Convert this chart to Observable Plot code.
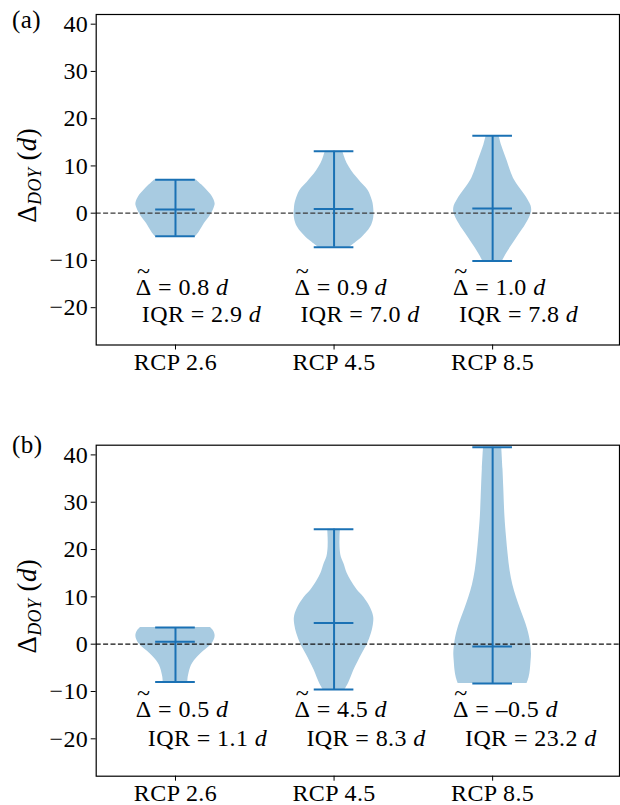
<!DOCTYPE html>
<html><head><meta charset="utf-8">
<script src="https://cdn.jsdelivr.net/npm/d3@7"></script>
<script src="https://cdn.jsdelivr.net/npm/@observablehq/plot@0.6"></script>
<style>
html,body{margin:0;padding:0;background:#fff;}
#chart svg{display:block;}
</style></head><body><div id="chart"></div>
<script>
const categories = ["RCP 2.6", "RCP 4.5", "RCP 8.5"];
const positions = [1, 2, 3];
const yTicks = [-20, -10, 0, 10, 20, 30, 40];

// Panel (a)
const medianA = [0.8, 0.9, 1.0];
const iqrA = [2.9, 7.0, 7.8];
const minA = [-4.9, -7.2, -10.1];
const maxA = [7.1, 13.1, 16.4];
// violin profiles: [value, relative half-width]
const profileA1 = [[-4.9,0.52],[-4.0,0.60],[-2.2,0.73],[-0.5,0.88],[1.0,0.97],[2.0,1.0],[3.5,0.93],[4.8,0.80],[6.0,0.66],[7.1,0.52]];
const profileA2 = [[-7.2,0.40],[-6.0,0.58],[-5.1,0.71],[-3.0,0.92],[-1.0,1.0],[1.0,1.0],[2.5,0.97],[4.8,0.86],[6.5,0.68],[7.6,0.57],[9.0,0.44],[10.5,0.33],[12.0,0.26],[13.1,0.22]];
const profileA3 = [[-10.1,0.25],[-9.0,0.32],[-7.9,0.40],[-5.1,0.62],[-2.2,0.85],[0.2,0.98],[1.5,0.97],[2.7,0.90],[4.0,0.80],[5.5,0.67],[7.0,0.55],[9.0,0.45],[11.0,0.37],[12.6,0.30],[14.5,0.22],[16.4,0.16]];

// Panel (b)
const medianB = [0.5, 4.5, -0.5];
const iqrB = [1.1, 8.3, 23.2];
const minB = [-8.0, -9.6, -8.3];
const maxB = [3.5, 24.3, 41.6];
const profileB1 = [[-8.0,0.31],[-7.0,0.32],[-6.2,0.34],[-5.0,0.38],[-4.1,0.43],[-3.0,0.53],[-2.0,0.64],[-1.0,0.78],[0.1,0.92],[1.0,0.98],[1.8,1.0],[2.8,0.96],[3.5,0.88]];
const profileB2 = [[-9.6,0.28],[-8.0,0.38],[-5.5,0.50],[-2.0,0.71],[0.0,0.84],[2.2,0.94],[4.0,0.99],[5.7,1.0],[7.5,0.93],[9.9,0.75],[11.5,0.58],[13.4,0.43],[15.0,0.33],[17.0,0.25],[18.5,0.18],[20.5,0.15],[22.5,0.15],[24.3,0.16]];
const profileB3 = [[-8.3,0.87],[-7.0,0.92],[-5.5,0.95],[-3.5,0.97],[-2.0,0.98],[0.0,0.96],[1.5,0.93],[3.2,0.88],[5.0,0.81],[7.5,0.70],[9.9,0.60],[12.5,0.51],[15.5,0.44],[19.0,0.39],[22.6,0.35],[27.0,0.31],[33.1,0.28],[37.0,0.26],[41.6,0.23]];

const FILL = "#a8cbe1";
const LINE = "#1a71b4";
const FONT = "'Liberation Serif', 'DejaVu Serif', serif";

function fmt(v) { return v < 0 ? "\u2013" + Math.abs(v).toFixed(1) : v.toFixed(1); }

function panel(cfg) {
  const violins = cfg.profiles.flatMap((p, i) => p.map(([v, w]) => ({cat: i, pos: positions[i], v, w})));
  const stats = categories.map((c, i) => ({c, pos: positions[i], min: cfg.min[i], max: cfg.max[i], med: cfg.med[i], iqr: cfg.iqr[i]}));
  const capStyle = {stroke: LINE, strokeWidth: 2, x1: d => d.pos - 0.125, x2: d => d.pos + 0.125};
  const svg = Plot.plot({
    width: 620, height: cfg.height,
    marginLeft: 95.7, marginRight: 1, marginTop: cfg.mt, marginBottom: cfg.mb,
    style: {fontFamily: FONT, fontSize: "24px", color: "#000", background: "#fff", letterSpacing: "0.4px"},
    x: {type: "linear", domain: [0.5, 3.8], axis: null},
    y: {domain: [-27.9, 42.05], axis: null},
    marks: [
      Plot.areaX(violins, {y: "v", x1: d => d.pos - 0.25 * d.w, x2: d => d.pos + 0.25 * d.w, z: "cat", fill: FILL, curve: "catmull-rom"}),
      Plot.ruleY([0], {stroke: cfg.dash, strokeWidth: 1.3, strokeDasharray: "5,2.4"}),
      Plot.ruleX(stats, {x: "pos", y1: "min", y2: "max", stroke: LINE, strokeWidth: 2}),
      Plot.ruleY(stats, {y: "min", ...capStyle}),
      Plot.ruleY(stats, {y: "max", ...capStyle}),
      Plot.ruleY(stats, {y: "med", ...capStyle}),
      Plot.text(stats, {x: d => d.pos - 0.25, y: () => cfg.annotY[0], text: d => `\u0394 = ${fmt(d.med)} d`, textAnchor: "start", fill: "#000", ariaLabel: "annot"}),
      Plot.text(stats, {x: d => d.pos - 0.25, y: () => cfg.annotY[1], dx: cfg.iqrDx, text: d => `IQR = ${d.iqr.toFixed(1)} d`, textAnchor: "start", fill: "#000", ariaLabel: "annot"}),
      Plot.axisY({ticks: yTicks, tickSize: 5, tickPadding: 3, label: null}),
      Plot.axisX({ticks: positions, tickFormat: i => categories[i - 1], tickSize: 5, tickPadding: 3, label: null}),
      Plot.frame({stroke: "#000", strokeWidth: 1.2})
    ]
  });
  const s = d3.select(svg);
  // y axis label with subscript
  const cy = (cfg.mt + (cfg.height - cfg.mb)) / 2 - 4;
  const lab = s.append("text")
    .attr("transform", `translate(36,${cy}) rotate(-90)`)
    .attr("text-anchor", "middle")
    .attr("font-family", FONT).attr("font-size", 27).attr("fill", "#000");
  lab.append("tspan").text("\u0394");
  lab.append("tspan").attr("font-style", "italic").attr("font-size", 18).attr("dy", 5).text("DOY");
  lab.append("tspan").attr("dy", -5).text(" (");
  lab.append("tspan").attr("font-style", "italic").text("d");
  lab.append("tspan").text(")");
  // panel letter
  s.append("text").attr("x", 12).attr("y", cfg.letterY)
    .attr("font-family", FONT).attr("font-size", 25).attr("fill", "#000")
    .attr("text-anchor", "start").text(cfg.letter);
  return svg;
}

// rebuild annotation texts: tilde over Delta, italic d
function styleAnnotations(svg) {
  d3.select(svg).selectAll("text").each(function() {
    const t = this.textContent;
    if (!t.endsWith(" d") || this.children.length) return;
    const el = d3.select(this);
    el.text(null);
    let body = t.slice(0, -1);
    if (body.startsWith("\u0394")) {
      const tD = el.append("tspan").text("\u0394");
      const tT = el.append("tspan").text("~");
      const wD = tD.node().getComputedTextLength();
      const wT = tT.node().getComputedTextLength();
      tT.attr("dx", -(wD + wT) / 2).attr("dy", -16).attr("font-size", 24);
      el.append("tspan").attr("dx", (wD - wT) / 2).attr("dy", 16).text(body.slice(1));
    } else {
      el.append("tspan").text(body);
    }
    el.append("tspan").attr("font-style", "italic").text("d");
  });
}

const chart = document.getElementById("chart");
const svgA = panel({
  height: 420, mt: 14, mb: 75.5,
  profiles: [profileA1, profileA2, profileA3],
  med: medianA, iqr: iqrA, min: minA, max: maxA,
  annotY: [-15.7, -21.5], iqrDx: 6, dash: "#3a3a3a",
  letter: "(a)", letterY: 28
});
const svgB = panel({
  height: 385, mt: 24.7, mb: 29.3,
  profiles: [profileB1, profileB2, profileB3],
  med: medianB, iqr: iqrB, min: minB, max: maxB,
  annotY: [-13.7, -19.8], iqrDx: 12, dash: "#111",
  letter: "(b)", letterY: 33
});
chart.appendChild(svgA);
chart.appendChild(svgB);
styleAnnotations(svgA);
styleAnnotations(svgB);
</script></body></html>
